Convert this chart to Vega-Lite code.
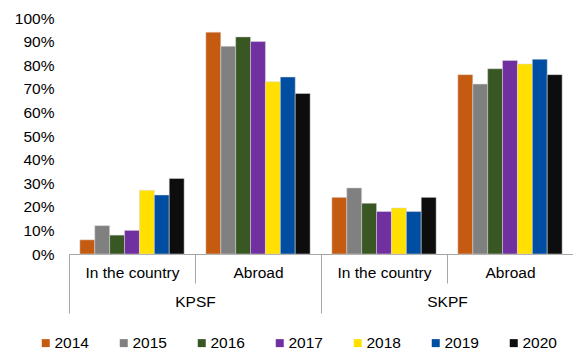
{
  "$schema": "https://vega.github.io/schema/vega-lite/v6.json",
  "width": 504,
  "height": 236,
  "autosize": "none",
  "padding": {"left": 69, "top": 18, "right": 0, "bottom": 96},
  "config": {
    "view": {"stroke": null},
    "font": "Liberation Sans",
    "axis": {"labelFont": "Liberation Sans", "labelFontSize": 15.5, "labelColor": "#000000"},
    "legend": {"labelFont": "Liberation Sans"}
  },
  "data": {
    "values": [
      {"group": "KPSF", "cat": "In the country", "key": "KPSF|In the country", "year": "2014", "value": 6},
      {"group": "KPSF", "cat": "In the country", "key": "KPSF|In the country", "year": "2015", "value": 12},
      {"group": "KPSF", "cat": "In the country", "key": "KPSF|In the country", "year": "2016", "value": 8},
      {"group": "KPSF", "cat": "In the country", "key": "KPSF|In the country", "year": "2017", "value": 10},
      {"group": "KPSF", "cat": "In the country", "key": "KPSF|In the country", "year": "2018", "value": 27},
      {"group": "KPSF", "cat": "In the country", "key": "KPSF|In the country", "year": "2019", "value": 25},
      {"group": "KPSF", "cat": "In the country", "key": "KPSF|In the country", "year": "2020", "value": 32},
      {"group": "KPSF", "cat": "Abroad", "key": "KPSF|Abroad", "year": "2014", "value": 94},
      {"group": "KPSF", "cat": "Abroad", "key": "KPSF|Abroad", "year": "2015", "value": 88},
      {"group": "KPSF", "cat": "Abroad", "key": "KPSF|Abroad", "year": "2016", "value": 92},
      {"group": "KPSF", "cat": "Abroad", "key": "KPSF|Abroad", "year": "2017", "value": 90},
      {"group": "KPSF", "cat": "Abroad", "key": "KPSF|Abroad", "year": "2018", "value": 73},
      {"group": "KPSF", "cat": "Abroad", "key": "KPSF|Abroad", "year": "2019", "value": 75},
      {"group": "KPSF", "cat": "Abroad", "key": "KPSF|Abroad", "year": "2020", "value": 68},
      {"group": "SKPF", "cat": "In the country", "key": "SKPF|In the country", "year": "2014", "value": 24},
      {"group": "SKPF", "cat": "In the country", "key": "SKPF|In the country", "year": "2015", "value": 28},
      {"group": "SKPF", "cat": "In the country", "key": "SKPF|In the country", "year": "2016", "value": 21.5},
      {"group": "SKPF", "cat": "In the country", "key": "SKPF|In the country", "year": "2017", "value": 18},
      {"group": "SKPF", "cat": "In the country", "key": "SKPF|In the country", "year": "2018", "value": 19.5},
      {"group": "SKPF", "cat": "In the country", "key": "SKPF|In the country", "year": "2019", "value": 18},
      {"group": "SKPF", "cat": "In the country", "key": "SKPF|In the country", "year": "2020", "value": 24},
      {"group": "SKPF", "cat": "Abroad", "key": "SKPF|Abroad", "year": "2014", "value": 76},
      {"group": "SKPF", "cat": "Abroad", "key": "SKPF|Abroad", "year": "2015", "value": 72},
      {"group": "SKPF", "cat": "Abroad", "key": "SKPF|Abroad", "year": "2016", "value": 78.5},
      {"group": "SKPF", "cat": "Abroad", "key": "SKPF|Abroad", "year": "2017", "value": 82},
      {"group": "SKPF", "cat": "Abroad", "key": "SKPF|Abroad", "year": "2018", "value": 80.5},
      {"group": "SKPF", "cat": "Abroad", "key": "SKPF|Abroad", "year": "2019", "value": 82.5},
      {"group": "SKPF", "cat": "Abroad", "key": "SKPF|Abroad", "year": "2020", "value": 76}
    ]
  },
  "layer": [
    {
      "mark": {"type": "bar", "stroke": "#d9d9d9", "strokeWidth": 0.5},
      "encoding": {
        "x": {
          "field": "key",
          "type": "nominal",
          "sort": ["KPSF|In the country", "KPSF|Abroad", "SKPF|In the country", "SKPF|Abroad"],
          "scale": {"paddingInner": 0, "paddingOuter": 0},
          "axis": {
            "title": null,
            "orient": "bottom",
            "labelExpr": "split(datum.value, '|')[1]",
            "labelAngle": 0,
            "tickBand": "extent",
            "tickSize": 29,
            "labelPadding": -18,
            "domainColor": "#a6a6a6",
            "tickColor": "#a6a6a6"
          }
        },
        "xOffset": {
          "field": "year",
          "type": "nominal",
          "scale": {"paddingInner": 0, "paddingOuter": 0.73}
        },
        "y": {
          "field": "value",
          "type": "quantitative",
          "scale": {"domain": [0, 100]},
          "axis": {
            "title": null,
            "values": [0, 10, 20, 30, 40, 50, 60, 70, 80, 90, 100],
            "labelExpr": "datum.value + '%'",
            "grid": false,
            "domain": false,
            "ticks": false,
            "labelPadding": 15
          }
        },
        "color": {
          "field": "year",
          "type": "nominal",
          "scale": {
            "domain": ["2014", "2015", "2016", "2017", "2018", "2019", "2020"],
            "range": ["#C55A11", "#808080", "#385723", "#7030A0", "#FFE000", "#004EA2", "#0D0D0D"]
          },
          "legend": {
            "title": null,
            "orient": "none",
            "direction": "horizontal",
            "legendX": -31,
            "legendY": 317,
            "symbolType": "square",
            "symbolSize": 64,
            "symbolStrokeWidth": 0,
            "symbolOpacity": 1,
            "labelFontSize": 15.5,
            "labelColor": "#000000",
            "labelOffset": 1,
            "columnPadding": 27
          }
        }
      }
    },
    {
      "mark": {"type": "rule", "opacity": 0},
      "encoding": {
        "x": {
          "field": "group",
          "type": "nominal",
          "scale": {"paddingInner": 0, "paddingOuter": 0},
          "axis": {
            "title": null,
            "orient": "bottom",
            "labelAngle": 0,
            "tickBand": "extent",
            "tickSize": 59,
            "labelPadding": -19,
            "domain": false,
            "tickColor": "#a6a6a6"
          }
        }
      }
    }
  ],
  "resolve": {"scale": {"x": "independent"}, "axis": {"x": "independent"}}
}
